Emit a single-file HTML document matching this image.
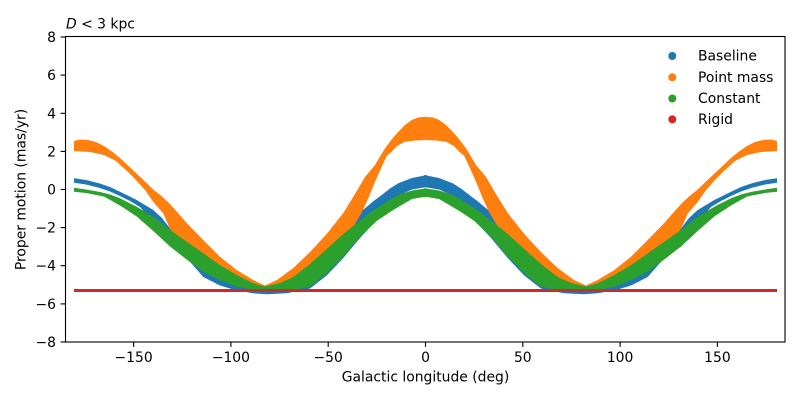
<!DOCTYPE html>
<html>
<head>
<meta charset="utf-8">
<style>
  html,body{margin:0;padding:0;background:#fff;}
  body{width:800px;height:400px;overflow:hidden;}
  svg{display:block;}
  text{font-family:"DejaVu Sans","Liberation Sans",sans-serif;font-size:13.9px;fill:#000;}
</style>
</head>
<body>
<svg width="800" height="400" viewBox="0 0 800 400" xmlns="http://www.w3.org/2000/svg">
  <rect x="0" y="0" width="800" height="400" fill="#fff"/>

  <!-- Baseline (blue) -->
  <g fill="#1f77b4">
    <polygon points="74,178.3 86,180 99,183.3 110,187 120,191.7 136.7,200 153.3,210 162,218 170,228.5 186.7,242.5 203.3,254 220,266 236.7,276 253.3,284.3 265,287.5 280,284 293.3,278 310,265 326.7,250 343.3,235 350,225 356.7,215 365,208.3 373,201.5 381.7,195 390,188.5 398.3,183.3 412,178 427,175 427,187 412,189.5 400,195 390,205 376.7,220 360,238 343.3,258 326.7,275.5 310,288.5 300,290.8 286.7,293.3 266.7,294.3 253.3,293.3 236.7,290.5 220,285.5 203.3,277 186.7,258 170,240 153.3,222 140,207 130,201 120,196 110,191.5 99,187.8 86,184.5 74,182.7"/>
    <g transform="matrix(-1 0 0 1 851 0)">
      <polygon points="74,178.3 86,180 99,183.3 110,187 120,191.7 136.7,200 153.3,210 162,218 170,228.5 186.7,242.5 203.3,254 220,266 236.7,276 253.3,284.3 265,287.5 280,284 293.3,278 310,265 326.7,250 343.3,235 350,225 356.7,215 365,208.3 373,201.5 381.7,195 390,188.5 398.3,183.3 412,178 427,175 427,187 412,189.5 400,195 390,205 376.7,220 360,238 343.3,258 326.7,275.5 310,288.5 300,290.8 286.7,293.3 266.7,294.3 253.3,293.3 236.7,290.5 220,285.5 203.3,277 186.7,258 170,240 153.3,222 140,207 130,201 120,196 110,191.5 99,187.8 86,184.5 74,182.7"/>
    </g>
  </g>

  <!-- Point mass (orange) -->
  <g fill="#ff7f0e">
    <polygon points="74,141 80,139.5 88,140 96,142 104,146 112,151.5 120,158 128,165.5 136,173 145,181.5 153.3,189.5 162,196.5 170,204 178,213 186.7,223 203.3,240 220,256.7 236.7,270 253.3,280 265,285.5 277,280 293.3,268 310,252 326.7,234 343.3,213 355,194 365,177 375,165 385,148.3 392,139 398.3,131.7 405,125 411.7,120 418,117.5 427,116.7 427,140 415,140.5 405,141.7 397,146 391.7,151.7 386.7,156 381.7,166.7 375,181.7 368.3,198.3 362,212 356.7,221 350,232 343.3,240 326.7,254 310,268 293.3,281 277,287 265,287.5 253.3,286 236.7,278 220,268 203.3,256 186.7,244 178,238 170,229 163.3,213.5 153.3,202 145,190 135,179 126,170 116,161 104,155 90,152 74,151"/>
    <g transform="matrix(-1 0 0 1 851 0)">
      <polygon points="74,141 80,139.5 88,140 96,142 104,146 112,151.5 120,158 128,165.5 136,173 145,181.5 153.3,189.5 162,196.5 170,204 178,213 186.7,223 203.3,240 220,256.7 236.7,270 253.3,280 265,285.5 277,280 293.3,268 310,252 326.7,234 343.3,213 355,194 365,177 375,165 385,148.3 392,139 398.3,131.7 405,125 411.7,120 418,117.5 427,116.7 427,140 415,140.5 405,141.7 397,146 391.7,151.7 386.7,156 381.7,166.7 375,181.7 368.3,198.3 362,212 356.7,221 350,232 343.3,240 326.7,254 310,268 293.3,281 277,287 265,287.5 253.3,286 236.7,278 220,268 203.3,256 186.7,244 178,238 170,229 163.3,213.5 153.3,202 145,190 135,179 126,170 116,161 104,155 90,152 74,151"/>
    </g>
  </g>

  <!-- Constant (green) -->
  <g fill="#2ca02c">
    <polygon points="74,187.7 86,189.5 99,191.7 110,194.5 120,198.3 136.7,206.7 153.3,216.7 170,230 186.7,241.7 203.3,253.3 220,265 236.7,275 253.3,283.3 265,286.5 280,283 293.3,277 310,264 326.7,249 343.3,234 360,220.5 365,216.7 373,210.5 381.7,205 390,199.5 398.3,195 412,190.5 427,188.3 427,196.5 412,199 400,206 390,212 376.7,221 360,237 343.3,256.7 326.7,273.3 310,286.7 293.3,290 280,291 265,290.5 253.3,290 236.7,286.7 220,280 203.3,271.7 186.7,259.5 170,246.5 153.3,231 136.7,216.5 120,205.5 104,196.5 86,193 74,191.7"/>
    <g transform="matrix(-1 0 0 1 851 0)">
      <polygon points="74,187.7 86,189.5 99,191.7 110,194.5 120,198.3 136.7,206.7 153.3,216.7 170,230 186.7,241.7 203.3,253.3 220,265 236.7,275 253.3,283.3 265,286.5 280,283 293.3,277 310,264 326.7,249 343.3,234 360,220.5 365,216.7 373,210.5 381.7,205 390,199.5 398.3,195 412,190.5 427,188.3 427,196.5 412,199 400,206 390,212 376.7,221 360,237 343.3,256.7 326.7,273.3 310,286.7 293.3,290 280,291 265,290.5 253.3,290 236.7,286.7 220,280 203.3,271.7 186.7,259.5 170,246.5 153.3,231 136.7,216.5 120,205.5 104,196.5 86,193 74,191.7"/>
    </g>
  </g>

  <!-- Rigid (red) -->
  <rect x="74" y="289" width="703" height="3" fill="#d62728"/>

  <!-- Axes spines -->
  <rect x="65.5" y="36.5" width="719.5" height="305.5" fill="none" stroke="#000" stroke-width="1.1"/>

  <!-- Y ticks -->
  <g stroke="#000" stroke-width="1.1">
    <line x1="60.6" y1="342" x2="65.5" y2="342"/>
    <line x1="60.6" y1="303.9" x2="65.5" y2="303.9"/>
    <line x1="60.6" y1="265.7" x2="65.5" y2="265.7"/>
    <line x1="60.6" y1="227.6" x2="65.5" y2="227.6"/>
    <line x1="60.6" y1="189.5" x2="65.5" y2="189.5"/>
    <line x1="60.6" y1="151.4" x2="65.5" y2="151.4"/>
    <line x1="60.6" y1="113.3" x2="65.5" y2="113.3"/>
    <line x1="60.6" y1="75.1" x2="65.5" y2="75.1"/>
    <line x1="60.6" y1="37" x2="65.5" y2="37"/>
  </g>
  <g text-anchor="end">
    <text x="56" y="347">−8</text>
    <text x="56" y="308.9">−6</text>
    <text x="56" y="270.7">−4</text>
    <text x="56" y="232.6">−2</text>
    <text x="56" y="194.5">0</text>
    <text x="56" y="156.4">2</text>
    <text x="56" y="118.3">4</text>
    <text x="56" y="80.1">6</text>
    <text x="56" y="42">8</text>
  </g>

  <!-- X ticks -->
  <g stroke="#000" stroke-width="1.1">
    <line x1="133.6" y1="342" x2="133.6" y2="346.9"/>
    <line x1="230.9" y1="342" x2="230.9" y2="346.9"/>
    <line x1="328.2" y1="342" x2="328.2" y2="346.9"/>
    <line x1="425.5" y1="342" x2="425.5" y2="346.9"/>
    <line x1="522.8" y1="342" x2="522.8" y2="346.9"/>
    <line x1="620.1" y1="342" x2="620.1" y2="346.9"/>
    <line x1="717.4" y1="342" x2="717.4" y2="346.9"/>
  </g>
  <g text-anchor="middle">
    <text x="133.6" y="362">−150</text>
    <text x="230.9" y="362">−100</text>
    <text x="328.2" y="362">−50</text>
    <text x="425.5" y="362">0</text>
    <text x="522.8" y="362">50</text>
    <text x="620.1" y="362">100</text>
    <text x="717.4" y="362">150</text>
  </g>

  <!-- Axis labels -->
  <text x="425.5" y="381.5" text-anchor="middle">Galactic longitude (deg)</text>
  <text transform="translate(25.5,189.5) rotate(-90)" text-anchor="middle">Proper motion (mas/yr)</text>

  <!-- Title -->
  <text x="66" y="28.3"><tspan font-style="italic">D</tspan> &lt; 3 kpc</text>

  <!-- Legend -->
  <circle cx="672.3" cy="56" r="4" fill="#1f77b4"/>
  <circle cx="672.3" cy="77.3" r="4" fill="#ff7f0e"/>
  <circle cx="672.3" cy="98.5" r="4" fill="#2ca02c"/>
  <circle cx="672.3" cy="119.3" r="4" fill="#d62728"/>
  <text x="698" y="60.5">Baseline</text>
  <text x="698" y="81.8">Point mass</text>
  <text x="698" y="103">Constant</text>
  <text x="698" y="123.8">Rigid</text>
</svg>
</body>
</html>
